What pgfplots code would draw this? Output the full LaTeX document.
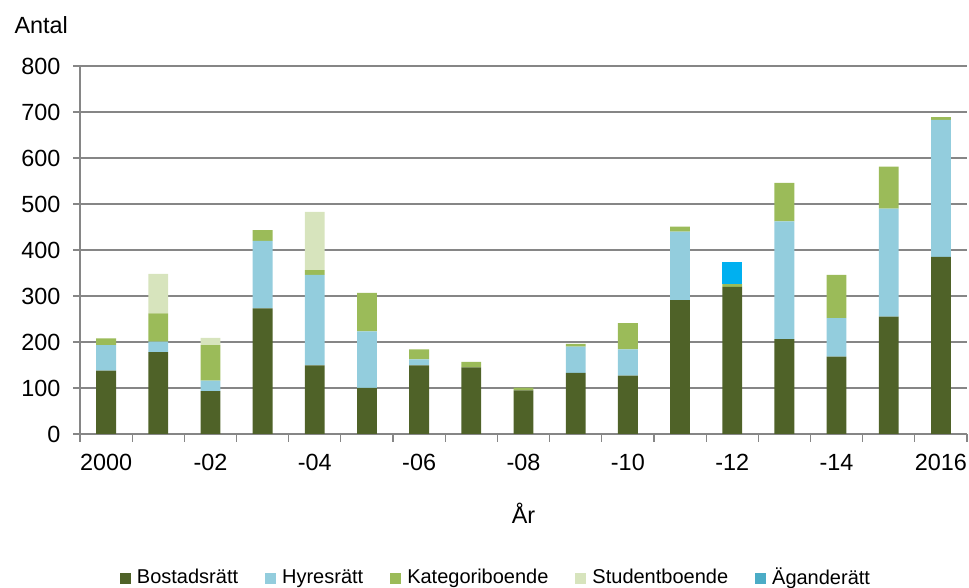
\documentclass[border=0pt]{standalone}
\usepackage{pgfplots}
\usepackage{pgfplotstable}
\usepackage{fontspec}
\setmainfont{Liberation Sans}
\pgfplotsset{compat=1.18}

\definecolor{bostad}{HTML}{4F6228}
\definecolor{hyres}{HTML}{93CDDD}
\definecolor{kategori}{HTML}{9BBB59}
\definecolor{student}{HTML}{D7E4BD}
\definecolor{agande}{HTML}{00B0F0}
\definecolor{agandeleg}{HTML}{4BACC6}
\definecolor{gridgrey}{RGB}{134,134,134}

% year index, Bostadsratt, Hyresratt, Kategoriboende, Studentboende, Aganderatt
\pgfplotstableread{
x  B    H    K   S    A
0  138  55   15  0    0
1  178  23   61  86   0
2  93   23   77  16   0
3  273  147  23  0    0
4  149  197  10  127  0
5  100  123  84  0    0
6  149  13   22  0    0
7  145  0    12  0    0
8  95   0    6   0    0
9  133  57   6   0    0
10 127  57   57  0    0
11 291  149  11  0    0
12 320  0    6   0    47
13 206  256  84  0    0
14 168  84   94  0    0
15 255  235  91  0    0
16 385  298  6   0    0
}\data

\begin{document}
\begin{tikzpicture}
\useasboundingbox (-80pt,-154pt) rectangle (889pt,434pt);
\begin{axis}[
    at={(0,0)}, anchor=south west,
    scale only axis,
    width=887pt, height=368pt,
    ybar stacked,
    bar width=0.38,
    xmin=-0.5, xmax=16.5,
    ymin=0, ymax=800,
    ytick={0,100,...,800},
    xtick={0,2,...,16},
    xticklabels={2000,-02,-04,-06,-08,-10,-12,-14,2016},
    minor xtick={-0.5,0.5,...,16.5},
    axis x line=bottom, axis y line=left,
    axis line style={draw=gridgrey, line width=1.2pt, -},
    tick align=outside,
    major tick length=7pt,
    minor tick length=8pt,
    major x tick style={draw=none},
    every tick/.style={draw=gridgrey, line width=1.2pt},
    minor x tick style={draw=gridgrey, line width=1.2pt},
    ymajorgrids,
    grid style={draw=gridgrey, line width=1.2pt},
    ticklabel style={font=\fontsize{23.4}{27}\selectfont},
    /pgf/number format/assume math mode=true,
    yticklabel style={xshift=-9pt},
    xticklabel style={yshift=-10pt},
    xlabel={År},
    xlabel style={at={(axis description cs:0.5,0)}, anchor=center, yshift=-79pt,
        font=\fontsize{23.4}{27}\selectfont},
    legend columns=5,
    legend style={draw=none, at={(axis description cs:0.469,0)}, anchor=center,
        yshift=-143pt, font=\fontsize{20}{24}\selectfont,
        /tikz/every odd column/.append style={column sep=4pt},
        /tikz/every even column/.append style={column sep=25pt}},
    legend image code/.code={\fill[#1] (0pt,-7pt) rectangle (11pt,4pt);},
    clip=false,
]
\addplot[fill=bostad, draw=none] table[x=x, y=B] {\data};
\addlegendentry{Bostadsrätt}
\addplot[fill=hyres, draw=none] table[x=x, y=H] {\data};
\addlegendentry{Hyresrätt}
\addplot[fill=kategori, draw=none] table[x=x, y=K] {\data};
\addlegendentry{Kategoriboende}
\addplot[fill=student, draw=none] table[x=x, y=S] {\data};
\addlegendentry{Studentboende}
\addplot[fill=agande, draw=none,
    legend image code/.code={\fill[agandeleg] (0pt,-7pt) rectangle (11pt,4pt);}]
    table[x=x, y=A] {\data};
\addlegendentry{Äganderätt}
\end{axis}
\node[anchor=west, font=\fontsize{23.4}{27}\selectfont] at (-69pt,409pt) {Antal};
\end{tikzpicture}
\end{document}
